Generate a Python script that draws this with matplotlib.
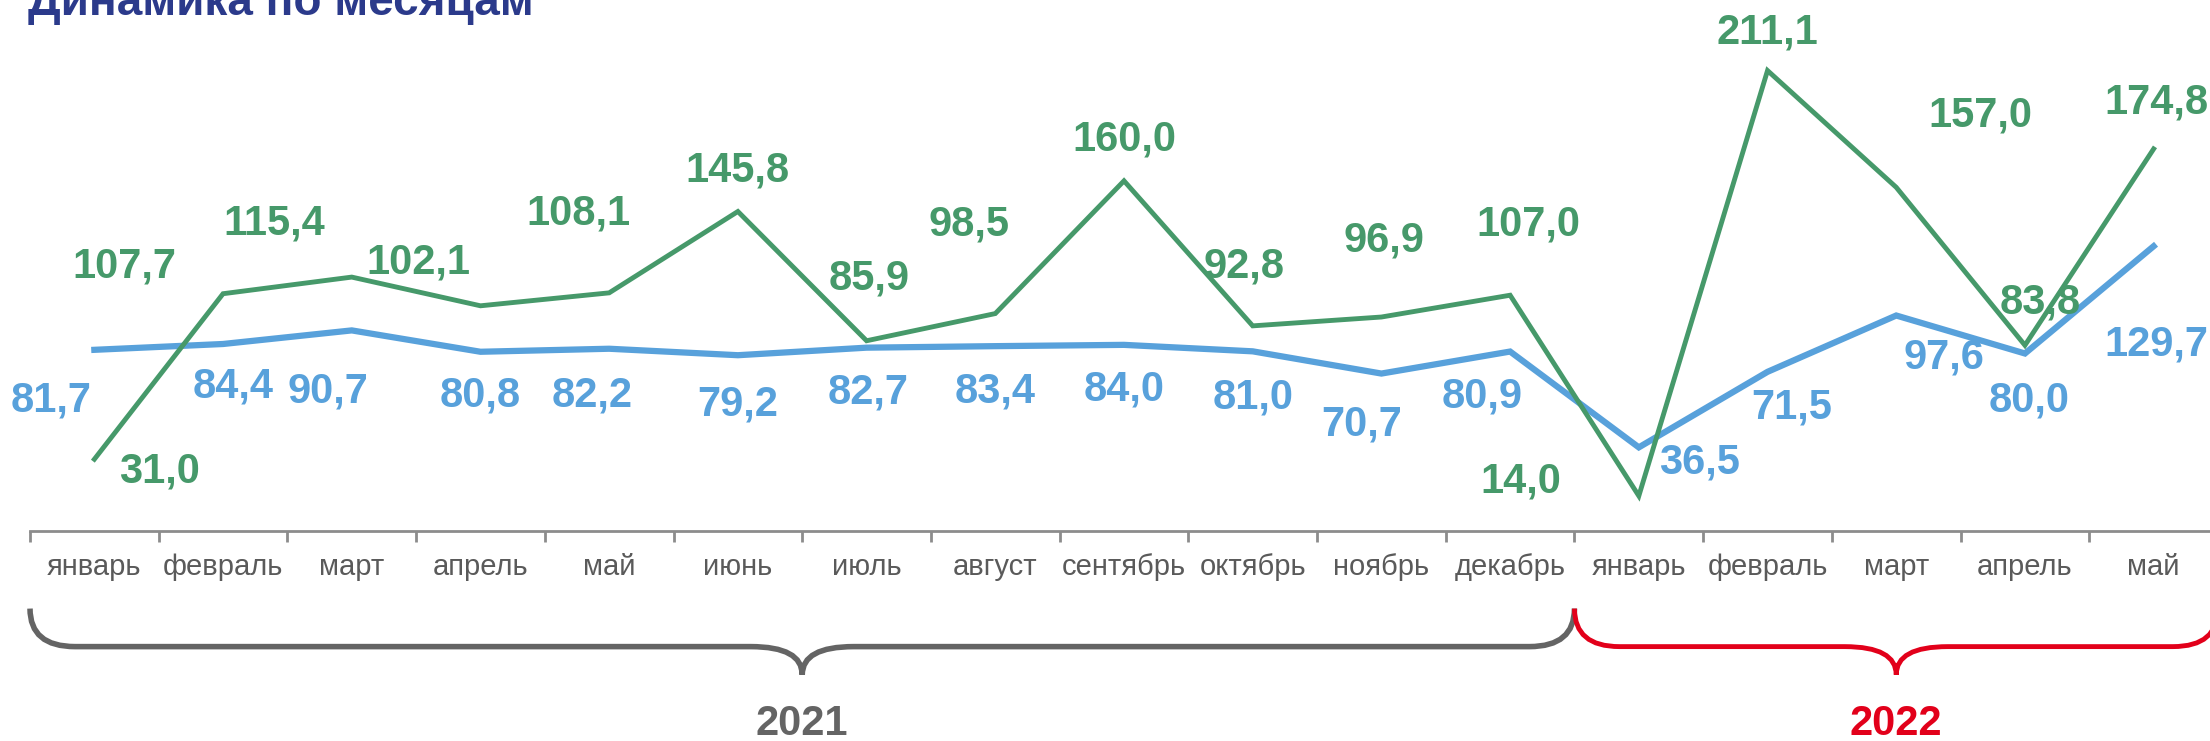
import matplotlib
matplotlib.use("Agg")
import matplotlib.pyplot as plt
from matplotlib.path import Path
from matplotlib.patches import PathPatch
from matplotlib.transforms import blended_transform_factory

plt.rcParams['font.family'] = ['Liberation Sans', 'DejaVu Sans']

months = ['январь', 'февраль', 'март', 'апрель', 'май', 'июнь', 'июль', 'август',
          'сентябрь', 'октябрь', 'ноябрь', 'декабрь',
          'январь', 'февраль', 'март', 'апрель', 'май']
green_vals = [31.0, 107.7, 115.4, 102.1, 108.1, 145.8, 85.9, 98.5, 160.0, 92.8,
              96.9, 107.0, 14.0, 211.1, 157.0, 83.8, 174.8]
blue_vals = [81.7, 84.4, 90.7, 80.8, 82.2, 79.2, 82.7, 83.4, 84.0, 81.0,
             70.7, 80.9, 36.5, 71.5, 97.6, 80.0, 129.7]
years = ['2021', '2022']
year_spans = [(-0.5, 11.5), (11.5, 16.5)]

# label offsets (points, y up)
green_off = [(46, -9), (-70, 19), (-55, 38), (-44, 31), (-22, 56), (0, 29), (2, 44),
             (-19, 63), (0, 29), (-6, 42), (2, 54), (13, 50), (-84, 10), (0, 27),
             (60, 51), (11, 30), (2, 33)]
blue_off = [(-31, -36), (7, -30), (-17, -43), (0, -31), (-12, -33), (0, -35), (1, -32),
            (0, -32), (0, -32), (0, -33), (-14, -36), (-20, -32), (43, -11), (17, -25),
            (34, -30), (3, -33), (2, -70)]

GREEN = '#46996A'
BLUE = '#58A1DB'
GRAY = '#646464'
RED = '#E2001A'
TITLE = '#2B3A8B'

fig = plt.figure(figsize=(22.1, 7.41), dpi=100)
ax = fig.add_axes([30 / 2210, 1 - 377 / 526, 2188 / 2210, 377 / 526])

x = list(range(len(months)))
ax.plot(x, blue_vals, color=BLUE, lw=4.5, solid_joinstyle='miter', zorder=3)
ax.plot(x, green_vals, color=GREEN, lw=3.5, solid_joinstyle='miter', zorder=4)

for i, v in enumerate(green_vals):
    dx, dy = green_off[i]
    ax.annotate(f'{v:.1f}'.replace('.', ','), (i, v), xytext=(dx * 1.015, dy * 1.015),
                textcoords='offset points', ha='center', va='center',
                fontsize=30, fontweight='bold', color=GREEN, zorder=5)
for i, v in enumerate(blue_vals):
    dx, dy = blue_off[i]
    ax.annotate(f'{v:.1f}'.replace('.', ','), (i, v), xytext=(dx * 1.015, dy * 1.015),
                textcoords='offset points', ha='center', va='center',
                fontsize=30, fontweight='bold', color=BLUE, zorder=5)

ax.set_xlim(-0.5, 16.5)
ax.set_ylim(-2.3, 243.8)
for s in ['top', 'right', 'left']:
    ax.spines[s].set_visible(False)
ax.spines['bottom'].set_color('#8C8C8C')
ax.spines['bottom'].set_linewidth(2)
ax.set_yticks([])
ax.set_xticks(x)
ax.set_xticklabels(months, fontsize=21, color='#5A5A5A')
ax.tick_params(axis='x', which='major', length=0, pad=16)
ax.set_xticks([i - 0.5 for i in range(len(months) + 1)], minor=True)
ax.tick_params(axis='x', which='minor', length=8, width=2, color='#8C8C8C')

# braces below the axis
tr = blended_transform_factory(ax.transData, fig.transFigure)


def fy(y):
    return 1 - y / 526


def brace(x0, x1, color, lw):
    xm = (x0 + x1) / 2
    yt, yl, yp = fy(432), fy(459), fy(479)
    r, rm = 0.35, 0.4
    verts = [(x0, yt), (x0, yl), (x0 + r, yl),
             (xm - rm, yl), (xm, yl), (xm, yp),
             (xm, yl), (xm + rm, yl),
             (x1 - r, yl), (x1, yl), (x1, yt)]
    codes = [Path.MOVETO, Path.CURVE3, Path.CURVE3,
             Path.LINETO, Path.CURVE3, Path.CURVE3,
             Path.CURVE3, Path.CURVE3,
             Path.LINETO, Path.CURVE3, Path.CURVE3]
    ax.add_patch(PathPatch(Path(verts, codes), fill=False, edgecolor=color, lw=lw,
                           transform=tr, clip_on=False, capstyle='butt'))
    return xm


for (x0, x1), yr, col, lw in zip(year_spans, years, [GRAY, RED], [4, 3.5]):
    xm = brace(x0, x1, col, lw)
    ax.text(xm, fy(514), yr, transform=tr, ha='center', va='center',
            fontsize=30, fontweight='bold', color=col)

fig.text(28 / 2210, 1 - 15 / 741, 'Динамика по месяцам', ha='left', va='baseline',
         fontsize=33, fontweight='bold', color=TITLE)

fig.savefig('out.png', dpi=100)
